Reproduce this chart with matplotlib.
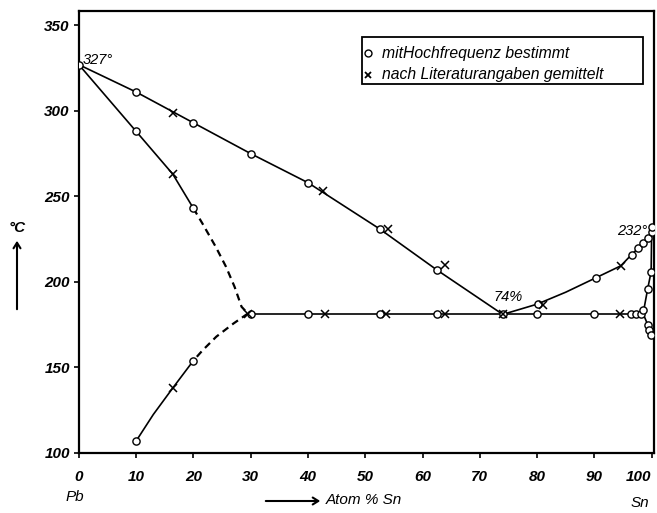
import matplotlib
matplotlib.use('Agg')
import matplotlib.pyplot as plt
from matplotlib.patches import Rectangle, FancyArrowPatch

# ---- curve paths (Atom-% Sn, deg C) ----
liq_pb_x = [0, 10, 20, 30, 40, 52.5, 62.5, 74]
liq_pb_t = [327, 311, 293, 275, 258, 231, 207, 181]

sol_pb_x = [0, 10, 16.4, 20]
sol_pb_t = [327, 288, 263, 243]

sol_pb_dash_x = [20, 21.6, 23.9, 25.7, 27.2, 28.4, 29.5]
sol_pb_dash_t = [243, 234, 220.5, 208.8, 197, 185.5, 181.5]

solv_pb_dash_x = [29.5, 27, 24, 21.6, 20]
solv_pb_dash_t = [181.5, 175.7, 168, 160, 154]

solv_pb_x = [20, 16.4, 13, 10]
solv_pb_t = [154, 138, 122.5, 107]

eut_x = [29.5, 98.5]
eut_t = [181, 181]

liq_sn_x = [74, 80, 85, 90, 94.6, 96.5, 97.6, 98.5, 99.4, 100, 100]
liq_sn_t = [181, 187, 194, 202, 209.4, 216, 219.6, 222.5, 225.4, 229, 232]

sol_sn_x = [100, 99.9, 99.3, 98.5, 99.3, 99.6, 99.9]
sol_sn_t = [232, 206, 196, 181.5, 175, 172, 169]

# ---- measured points: mit Hochfrequenz bestimmt (circles) ----
circ_x = [0, 10, 20, 30, 40, 52.5, 62.5,
          10, 20, 20, 10,
          30, 40, 52.5, 62.5, 74, 80, 90, 96.3, 97.3, 98.2,
          80.2, 90.3, 96.5, 97.6, 98.5, 99.4, 100, 100,
          99.9, 99.3, 98.5, 99.3, 99.6, 99.9]
circ_t = [327, 311, 293, 275, 258, 231, 207,
          288, 243, 154, 107,
          181, 181, 181, 181, 181, 181, 181, 181, 181, 181,
          187, 202, 216, 219.6, 222.5, 225.4, 229, 232,
          206, 196, 183.5, 175, 172, 169]

# ---- literature values (crosses) ----
cross_x = [16.4, 42.6, 53.9, 64, 16.4, 16.4, 29.5, 43, 53.7, 64, 74, 94.5, 81, 94.6]
cross_t = [299, 253, 231, 210, 263, 138, 181, 181, 181, 181, 181, 181, 186.5, 209.4]

x_ticks = [0, 10, 20, 30, 40, 50, 60, 70, 80, 90, 100]
y_ticks = [100, 150, 200, 250, 300, 350]

legend_labels = ['mitHochfrequenz bestimmt', 'nach Literaturangaben gemittelt']

FONT = 'Liberation Sans'
plt.rcParams['font.family'] = [FONT, 'DejaVu Sans']

fig = plt.figure(figsize=(6.57, 5.13), dpi=100)
ax = fig.add_axes([0.120, 0.117, 0.875, 0.862])

lw = 1.2
ax.plot(liq_pb_x, liq_pb_t, color='black', lw=lw)
ax.plot(sol_pb_x, sol_pb_t, color='black', lw=lw)
ax.plot(sol_pb_dash_x, sol_pb_dash_t, color='black', lw=1.6, ls=(0, (3.2, 2.2)))
ax.plot(solv_pb_dash_x, solv_pb_dash_t, color='black', lw=1.6, ls=(0, (3.2, 2.2)))
ax.plot(solv_pb_x, solv_pb_t, color='black', lw=lw)
ax.plot(eut_x, eut_t, color='black', lw=lw)
ax.plot(liq_sn_x, liq_sn_t, color='black', lw=lw)
ax.plot(sol_sn_x, sol_sn_t, color='black', lw=lw)

ax.plot(circ_x, circ_t, ls='none', marker='o', ms=5.2, mfc='white', mec='black', mew=1.0, zorder=4)
ax.plot(cross_x, cross_t, ls='none', marker='x', ms=6, mec='black', mew=1.1, zorder=5)

ax.set_xlim(0, 100.35)
ax.set_ylim(100, 358.5)

for s in ax.spines.values():
    s.set_linewidth(1.6)

ax.set_xticks(x_ticks)
ax.set_yticks(y_ticks)
ax.set_xticklabels([str(v) for v in x_ticks])
ax.set_yticklabels([str(v) for v in y_ticks])
ax.tick_params(axis='both', direction='out', length=3.5, width=1.2)
ax.tick_params(axis='x', pad=9)
ax.tick_params(axis='y', pad=3)
for lab in ax.get_xticklabels() + ax.get_yticklabels():
    lab.set_fontstyle('italic')
    lab.set_fontweight('bold')
    lab.set_fontsize(11)
ax.get_xticklabels()[-1].set_horizontalalignment('right')

# annotations in the plot
ax.text(0.6, 329.5, '327°', fontsize=10.5, style='italic', ha='left', va='center')
ax.text(72.4, 191, '74%', fontsize=10.5, style='italic', ha='left', va='center')
ax.text(99.2, 230, '232°', fontsize=10.5, style='italic', ha='right', va='center')

# legend box (drawn in axes fraction)
ax.add_patch(Rectangle((0.492, 0.834), 0.489, 0.1065, transform=ax.transAxes,
                       facecolor='white', edgecolor='black', lw=1.3, zorder=6))
leg_y = [0.904, 0.855]
ax.plot([0.5026], [leg_y[0]], transform=ax.transAxes, ls='none', marker='o', ms=5,
        mfc='white', mec='black', mew=1.0, zorder=7, clip_on=False)
ax.plot([0.5026], [leg_y[1]], transform=ax.transAxes, ls='none', marker='x', ms=5,
        mec='black', mew=1.3, zorder=7, clip_on=False)
for yy, lab in zip(leg_y, legend_labels):
    ax.text(0.527, yy, lab, transform=ax.transAxes, fontsize=11.3, style='italic',
            ha='left', va='center', zorder=7)

# axis labels
fig.text(17 / 657, 1 - 228 / 513, '°C', fontsize=11, style='italic', fontweight='bold',
         ha='center', va='center')
fig.add_artist(FancyArrowPatch(
    (17 / 657, 1 - 312 / 513), (17 / 657, 1 - 238 / 513), transform=fig.transFigure,
    arrowstyle='->,head_length=4,head_width=2.5', lw=1.5, color='black'))
fig.add_artist(FancyArrowPatch(
    (263 / 657, 1 - 501 / 513), (323 / 657, 1 - 501 / 513), transform=fig.transFigure,
    arrowstyle='->,head_length=4,head_width=2.5', lw=1.5, color='black'))
fig.text(326 / 657, 1 - 500 / 513, 'Atom % Sn', fontsize=11, style='italic',
         ha='left', va='center')
fig.text(75 / 657, 1 - 497 / 513, 'Pb', fontsize=11, style='italic', ha='center', va='center')
fig.text(640 / 657, 1 - 503 / 513, 'Sn', fontsize=11, style='italic', ha='center', va='center')

fig.savefig('out.png', dpi=100)
